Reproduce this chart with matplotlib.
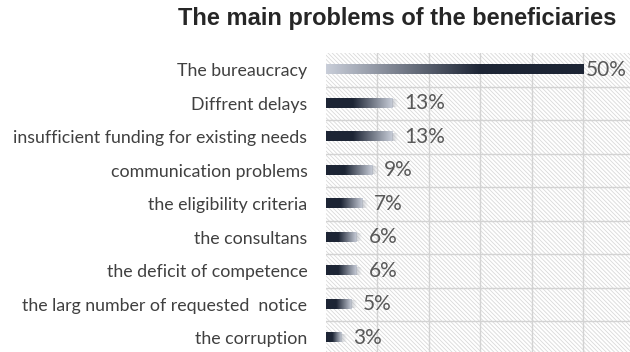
import numpy as np
import matplotlib
matplotlib.use("Agg")
import matplotlib.pyplot as plt
from matplotlib.colors import to_rgb
from matplotlib.patches import Rectangle
from matplotlib.ticker import FixedLocator

categories = [
    "The bureaucracy",
    "Diffrent delays",
    "insufficient funding for existing needs",
    "communication problems",
    "the eligibility criteria",
    "the consultans",
    "the deficit of competence",
    "the larg number of requested  notice",
    "the corruption",
]
values = [50, 13, 13, 9, 7, 6, 6, 5, 3]
title = "The main problems of the beneficiaries"

DARK = np.array(to_rgb("#1d2535"))
LIGHT = np.array(to_rgb("#c9ced9"))
W, H = 630, 352
DPI = 100

plt.rcParams["hatch.linewidth"] = 0.6
plt.rcParams["hatch.color"] = "#d9d9d9"

fig = plt.figure(figsize=(W / DPI, H / DPI), dpi=DPI)
fig.patch.set_facecolor("white")

px_per_unit = 5.15
x0_px, top_px, row_px = 325.5, 53.0, 33.5
ax_w = (W - x0_px) / W
ax_h = len(categories) * row_px / H
ax = fig.add_axes([x0_px / W, 1 - top_px / H - ax_h, ax_w, ax_h])
ax.set_xlim(0, (W - x0_px) / px_per_unit)
ax.set_ylim(len(categories) - 0.5, -0.5)
ax.set_facecolor("white")

# hatched plot-area background
ax.add_patch(Rectangle((0, 0), 1, 1, transform=ax.transAxes, facecolor="white",
                       edgecolor="#d9d9d9", hatch="\\" * 8, lw=0, zorder=0))

# grid
ax.xaxis.set_major_locator(FixedLocator([10, 20, 30, 40, 50]))
ax.yaxis.set_minor_locator(FixedLocator(np.arange(0.5, len(categories), 1.0)))
ax.grid(axis="x", which="major", color="#d3d3d3", lw=1.0, zorder=1)
ax.grid(axis="y", which="minor", color="#d3d3d3", lw=1.0, zorder=1)
ax.set_axisbelow(True)

bar_h = 0.28
n = 256
u = np.linspace(0, 1, n)
for i, v in enumerate(values):
    if i == 0:
        t = np.clip(u / 0.6, 0, 1)
        cols = LIGHT[None, :] * (1 - t[:, None]) + DARK[None, :] * t[:, None]
    else:
        t = np.clip((u - 0.4) / 0.6, 0, 1)
        cols = DARK[None, :] * (1 - t[:, None]) + LIGHT[None, :] * t[:, None]
    img = np.concatenate([cols, np.ones((n, 1))], axis=1)[None, :, :]
    ax.imshow(img, extent=[0, v, i + bar_h / 2, i - bar_h / 2], aspect="auto",
              interpolation="bilinear", zorder=3)
    if i > 0:
        # soft shadow at the bar end
        tail = 6 / px_per_unit
        a = np.linspace(0.7, 0.0, 32)
        timg = np.zeros((1, 32, 4))
        timg[0, :, :3] = to_rgb("#b0b4bc")
        timg[0, :, 3] = a
        ax.imshow(timg, extent=[v, v + tail, i + bar_h / 2 * 0.8, i - bar_h / 2 * 0.8],
                  aspect="auto", interpolation="bilinear", zorder=3)
    off = 3 if i == 0 else 12
    ax.annotate(f"{v}%", xy=(v, i), xytext=(off * 72 / DPI, 0), textcoords="offset points",
                ha="left", va="center", fontsize=15, color="#595959",
                family="Lato", zorder=4)

ax.set_yticks(range(len(categories)))
ax.set_yticklabels(categories, family="Lato", fontsize=12.8, color="#404040")
ax.tick_params(axis="y", which="both", length=0, pad=13)
ax.tick_params(axis="x", which="both", length=0, labelbottom=False)
for s in ax.spines.values():
    s.set_visible(False)

fig.text(397 / W, 1 - 18 / H, title, ha="center", va="center", fontsize=17,
         fontweight="bold", family="Liberation Sans", color="#262626")

fig.savefig("out.png", dpi=DPI, facecolor="white")
